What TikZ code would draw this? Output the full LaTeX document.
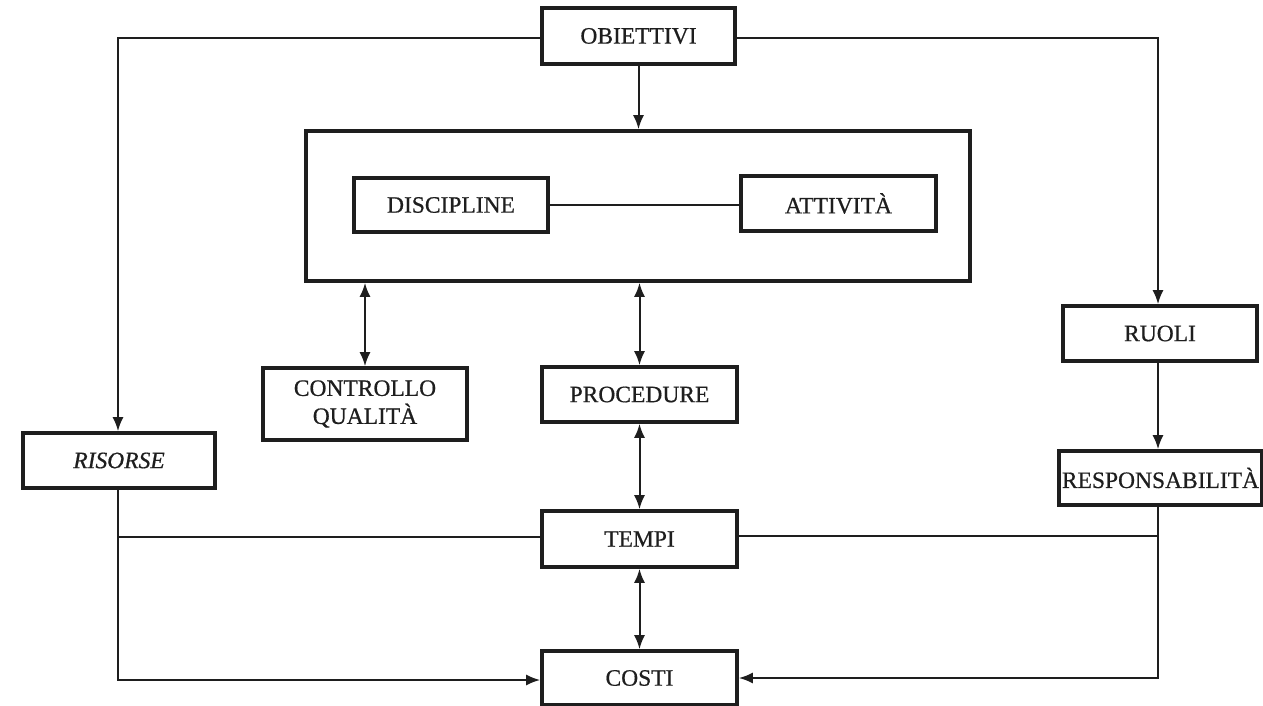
\documentclass[tikz,border=0pt]{standalone}
\usepackage{fontspec}
\setmainfont{Liberation Serif}[FakeBold=0.6]
\usetikzlibrary{arrows.meta}
\definecolor{ink}{HTML}{1E1E1E}
\begin{document}
\begin{tikzpicture}[x=1pt,y=-1pt,
  box/.style={draw=ink, line width=3.6pt, fill=white, inner sep=0pt,
    font=\fontsize{23.5}{28}\selectfont, text=ink, align=center},
  link/.style={draw=ink, line width=2pt},
  tip/.style={link, -{Latex[length=14pt,width=11pt]}},
  both/.style={link, {Latex[length=14pt,width=11pt]}-{Latex[length=14pt,width=11pt]}}]
\useasboundingbox[fill=white] (0,0) rectangle (1263,706);

% boxes
\node[box, minimum width=664pt, minimum height=150pt] (big) at (638,206) {};
\node[box, minimum width=193pt, minimum height=56pt] (obj) at (638.5,36) {OBIETTIVI};
\node[box, minimum width=194pt, minimum height=54pt] (disc) at (451,205) {DISCIPLINE};
\node[box, minimum width=195pt, minimum height=55pt] (att) at (838.5,203.5) {ATTIVITÀ};
\node[box, minimum width=204pt, minimum height=72pt] (cq) at (365,404) {CONTROLLO\\QUALITÀ};
\node[box, minimum width=195pt, minimum height=55pt] (proc) at (639.5,394.5) {PROCEDURE};
\node[box, minimum width=192pt, minimum height=55pt] (ris) at (119,460.5) {\itshape RISORSE};
\node[box, minimum width=195pt, minimum height=56pt] (tempi) at (639.5,539) {TEMPI};
\node[box, minimum width=195pt, minimum height=54pt] (costi) at (639.5,678) {COSTI};
\node[box, minimum width=194pt, minimum height=55pt] (ruoli) at (1160,333.5) {RUOLI};
\node[box, minimum width=203pt, minimum height=54pt] (resp) at (1160.5,478) {RESPONSABILITÀ};

% routing corners
\coordinate (tl) at (118,38);
\coordinate (tr) at (1158,38);
\coordinate (bl) at (118,680);
\coordinate (br) at (1158,678);
\coordinate (ml) at (118,537);
\coordinate (mr) at (1158,536);

% connectors
\draw[tip] (obj.west |- tl) -- (tl) -- (tl |- ris.north);
\draw[tip] (obj.east |- tr) -- (tr) -- (tr |- ruoli.north);
\draw[tip] (obj.south) -- (big.north -| obj.south);
\draw[link] (disc.east) -- (att.west |- disc.east);
\draw[both] (big.south -| cq.north) -- (cq.north);
\draw[both] (big.south -| proc.north) -- (proc.north);
\draw[both] (proc.south) -- (tempi.north);
\draw[both] (tempi.south) -- (costi.north);
\draw[tip] (ruoli.south -| tr) -- (resp.north -| tr);
\draw[tip] (ris.south -| bl) -- (bl) -- (costi.west |- bl);
\draw[link] (ml) -- (tempi.west |- ml);
\draw[tip] (resp.south -| br) -- (br) -- (costi.east |- br);
\draw[link] (mr) -- (tempi.east |- mr);
\end{tikzpicture}
\end{document}
